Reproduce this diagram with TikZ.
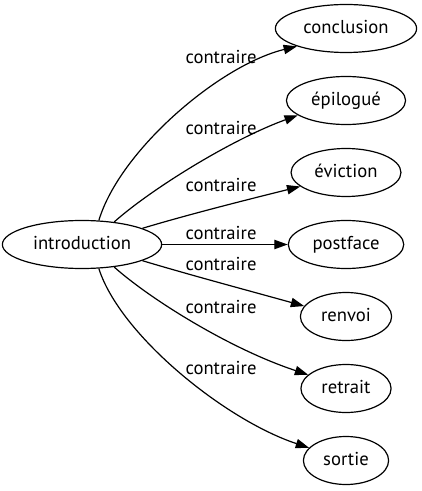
\documentclass[tikz,border=0pt]{standalone}
\usepackage{fontspec}
\setmainfont{PT Sans}
\usetikzlibrary{arrows.meta,shapes.geometric}
\begin{document}
\begin{tikzpicture}[x=0.75pt,y=-0.75pt,
  word/.style={draw, ellipse, line width=0.9pt, minimum height=36pt,
    inner xsep=5.5pt, inner ysep=2pt, text height=10pt, text depth=3pt,
    font=\fontsize{14pt}{16pt}\selectfont},
  lbl/.style={inner sep=0pt, font=\fontsize{14pt}{16pt}\selectfont},
  edge/.style={line width=0.9pt, -{Triangle[length=10pt,width=7pt]}}]
\useasboundingbox (0,0) rectangle (421,491);
\node[word] (intro) at (82,244.5) {introduction};
\node[word] (conclusion) at (346,28.5) {conclusion};
\node[word] (epilogue) at (346,100.5) {épilogué};
\node[word] (eviction) at (346,172.5) {éviction};
\node[word] (postface) at (346,244.5) {postface};
\node[word] (renvoi) at (346,316.5) {renvoi};
\node[word] (retrait) at (346,388.5) {retrait};
\node[word] (sortie) at (346,460.5) {sortie};
\node[lbl] (l1) at (221,57) {contraire};
\node[lbl] (l2) at (221,128) {contraire};
\node[lbl] (l3) at (221,185) {contraire};
\node[lbl] (l4) at (221,233) {contraire};
\node[lbl] (l5) at (221,264) {contraire};
\node[lbl] (l6) at (221,307) {contraire};
\node[lbl] (l7) at (221,368) {contraire};
\draw[edge] (intro.55.7) .. controls (120,150) and (220,65) .. (conclusion.200.7);
\draw[edge] (intro.35.5) .. controls (150,190) and (230,140) .. (epilogue.197);
\draw[edge] (intro.15.1) .. controls (190,214) and (250,199) .. (eviction.197);
\draw[edge] (intro.0) -- (postface.180);
\draw[edge] (intro.-15.1) .. controls (190,275) and (250,291) .. (renvoi.166.5);
\draw[edge] (intro.-35.5) .. controls (150,299) and (230,349) .. (retrait.160);
\draw[edge] (intro.-55.7) .. controls (120,335) and (225,420) .. (sortie.161);
\end{tikzpicture}
\end{document}
